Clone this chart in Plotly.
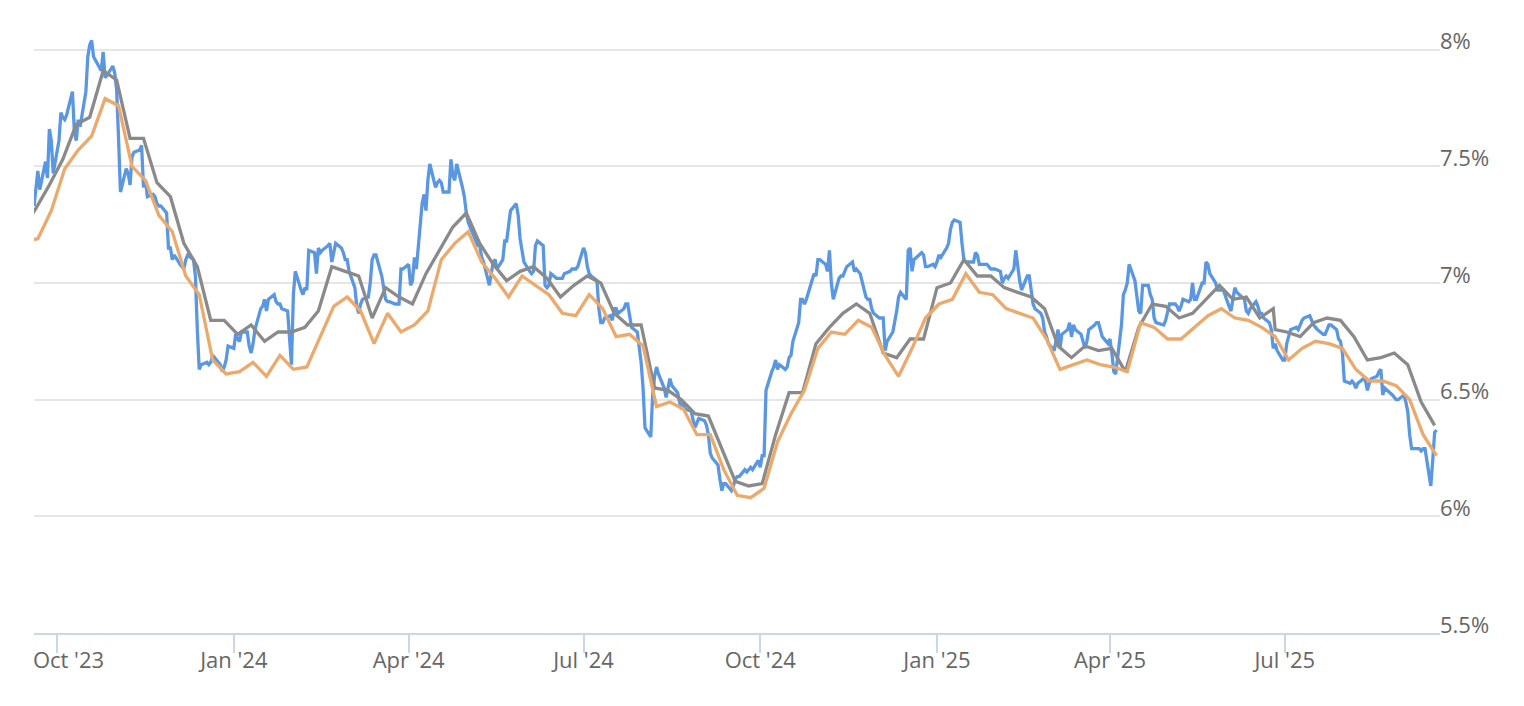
import pandas as pd
import plotly.graph_objects as go

# daily rate, business days 2023-09-19 .. 2025-09-18 (one row per week, Mon..Fri)
daily_weeks = [
    [7.33, 7.41, 7.48, 7.40],
    [7.52, 7.45, 7.66, 7.61, 7.47],
    [7.61, 7.73, 7.71, 7.70, 7.72],
    [7.82, 7.65, 7.61, 7.70, 7.67],
    [7.82, 7.97, 8.02, 8.04, 7.97],
    [7.92, 7.91, 7.99, 7.88, 7.89],
    [7.93, 7.90, 7.83, 7.62, 7.39],
    [7.49, 7.47, 7.42, 7.54, 7.56],
    [7.57, 7.59, 7.41, 7.44, 7.37],
    [7.38, 7.37, 7.34, 7.33, 7.33],
    [7.30, 7.15, 7.15, 7.10, 7.12],
    [7.08, 7.07, 7.06, 7.10, 7.12],
    [7.10, 7.03, 6.80, 6.63, 6.65],
    [6.66, 6.65, 6.66, 6.69, 6.68],
    [6.65, 6.62, 6.64, 6.67, 6.73],
    [6.72, 6.78, 6.76, 6.75, 6.79],
    [6.79, 6.73, 6.70, 6.74, 6.80],
    [6.89, 6.90, 6.93, 6.88, 6.93],
    [6.95, 6.92, 6.91, 6.91, 6.89],
    [6.88, 6.75, 6.65, 6.95, 7.05],
    [6.97, 6.95, 6.98, 6.97, 7.14],
    [7.13, 7.04, 7.15, 7.13, 7.14],
    [7.16, 7.17, 7.09, 7.14, 7.17],
    [7.15, 7.13, 7.10, 7.10, 7.05],
    [6.98, 6.90, 6.87, 6.91, 6.93],
    [6.94, 7.00, 7.10, 7.12, 7.12],
    [7.03, 6.98, 6.93, 6.92, 6.92],
    [6.91, 6.91, 6.91, 7.06, 7.06],
    [7.08, 6.99, 7.01, 7.11, 7.06],
    [7.34, 7.38, 7.31, 7.44, 7.51],
    [7.41, 7.43, 7.44, 7.43, 7.39],
    [7.39, 7.53, 7.46, 7.44, 7.51],
    [7.41, 7.37, 7.30, 7.26, 7.24],
    [7.18, 7.16, 7.16, 7.11, 7.09],
    [6.99, 7.04, 7.09, 7.10, 7.06],
    [7.10, 7.18, 7.18, 7.25, 7.31],
    [7.34, 7.29, 7.19, 7.14, 7.09],
    [7.05, 7.04, 7.05, 7.16, 7.18],
    [7.16, 6.99, 6.98, 6.99, 7.04],
    [7.02, 7.02, 7.02, 7.02, 7.04],
    [7.05, 7.06, 7.06, 7.06, 7.07],
    [7.15, 7.13, 7.07, 7.04, 7.03],
    [7.01, 6.89, 6.83, 6.83, 6.85],
    [6.86, 6.84, 6.89, 6.89, 6.87],
    [6.89, 6.91, 6.91, 6.86, 6.81],
    [6.79, 6.73, 6.66, 6.55, 6.38],
    [6.34, 6.52, 6.60, 6.64, 6.61],
    [6.55, 6.51, 6.56, 6.59, 6.56],
    [6.53, 6.49, 6.46, 6.49, 6.46],
    [6.45, 6.42, 6.38, 6.40, 6.42],
    [6.41, 6.39, 6.35, 6.27, 6.25],
    [6.22, 6.16, 6.11, 6.14, 6.14],
    [6.11, 6.13, 6.16, 6.17, 6.17],
    [6.20, 6.19, 6.20, 6.21, 6.20],
    [6.24, 6.21, 6.26, 6.26, 6.54],
    [6.62, 6.64, 6.67, 6.63, 6.65],
    [6.63, 6.64, 6.68, 6.69, 6.75],
    [6.83, 6.93, 6.93, 6.91, 6.93],
    [7.01, 7.04, 7.03, 7.10, 7.10],
    [7.08, 7.05, 7.14, 7.00, 6.93],
    [7.02, 7.03, 7.03, 7.05, 7.07],
    [7.09, 7.05, 7.06, 7.05, 7.04],
    [6.94, 6.93, 6.93, 6.89, 6.87],
    [6.85, 6.85, 6.85, 6.71, 6.75],
    [6.79, 6.83, 6.88, 6.94, 6.96],
    [6.93, 7.14, 7.15, 7.05, 7.10],
    [7.12, 7.13, 7.12, 7.07, 7.07],
    [7.08, 7.07, 7.09, 7.12, 7.11],
    [7.15, 7.17, 7.23, 7.26, 7.27],
    [7.26, 7.17, 7.10, 7.09, 7.09],
    [7.09, 7.13, 7.12, 7.08, 7.08],
    [7.08, 7.07, 7.06, 7.06, 7.06],
    [7.05, 7.00, 7.02, 7.03, 7.02],
    [7.06, 7.14, 7.06, 7.01, 6.97],
    [7.03, 7.03, 6.98, 6.91, 6.89],
    [6.87, 6.85, 6.79, 6.77, 6.74],
    [6.71, 6.75, 6.80, 6.72, 6.78],
    [6.80, 6.83, 6.77, 6.82, 6.80],
    [6.78, 6.75, 6.72, 6.75, 6.80],
    [6.82, 6.83, 6.83, 6.80, 6.77],
    [6.74, 6.76, 6.70, 6.62, 6.61],
    [6.82, 6.95, 6.97, 7.00, 7.08],
    [7.01, 6.95, 6.88, 6.87, 6.99],
    [6.99, 6.95, 6.93, 6.85, 6.83],
    [6.82, 6.82, 6.84, 6.88, 6.91],
    [6.91, 6.90, 6.88, 6.90, 6.93],
    [6.92, 6.93, 7.00, 6.93, 6.93],
    [7.00, 7.00, 7.09, 7.08, 7.04],
    [7.00, 6.97, 6.97, 6.97, 6.97],
    [6.90, 6.88, 6.93, 6.98, 6.96],
    [6.94, 6.93, 6.88, 6.87, 6.89],
    [6.92, 6.90, 6.87, 6.87, 6.85],
    [6.83, 6.80, 6.72, 6.74, 6.71],
    [6.67, 6.67, 6.74, 6.77, 6.80],
    [6.81, 6.80, 6.82, 6.84, 6.85],
    [6.86, 6.84, 6.82, 6.81, 6.80],
    [6.78, 6.78, 6.80, 6.82, 6.82],
    [6.80, 6.76, 6.75, 6.70, 6.58],
    [6.57, 6.58, 6.57, 6.55, 6.57],
    [6.59, 6.58, 6.54, 6.57, 6.59],
    [6.60, 6.62, 6.63, 6.52, 6.55],
    [6.53, 6.52, 6.51, 6.50, 6.50],
    [6.52, 6.49, 6.45, 6.35, 6.29],
    [6.29, 6.29, 6.28, 6.29, 6.29],
    [6.13, 6.24, 6.36, 6.37],
]
daily_rate = [v for week in daily_weeks for v in week]
daily_dates = pd.bdate_range("2023-09-19", "2025-09-18")

# weekly survey (Wednesdays), one extra print on 2025-06-26
survey_rate = [
    7.23, 7.32, 7.42, 7.53, 7.68, 7.71, 7.91, 7.87, 7.62, 7.62,
    7.43, 7.37, 7.17, 7.07, 6.84, 6.84, 6.78, 6.82, 6.75, 6.79,
    6.79, 6.81, 6.88, 7.07, 7.05, 7.03, 6.85, 6.98, 6.94, 6.91,
    7.04, 7.14, 7.24, 7.30, 7.17, 7.08, 7.01, 7.05, 7.07, 7.02,
    6.94, 6.99, 7.03, 7.00, 6.87, 6.82, 6.82, 6.55, 6.54, 6.50,
    6.44, 6.43, 6.29, 6.15, 6.13, 6.14, 6.35, 6.53, 6.53, 6.74,
    6.81, 6.87, 6.91, 6.87, 6.70, 6.68, 6.76, 6.76, 6.98, 7.00,
    7.10, 7.03, 7.03, 6.98, 6.96, 6.94, 6.89, 6.73, 6.68, 6.73,
    6.71, 6.72, 6.62, 6.81, 6.91, 6.90, 6.85, 6.87, 6.93, 6.99,
    6.93, 6.94, 6.85, 6.89, 6.80, 6.79, 6.77, 6.83, 6.85, 6.84,
    6.77, 6.67, 6.68, 6.70, 6.65, 6.49, 6.39,
]
survey_dates = list(pd.date_range("2023-09-13", "2025-09-17", freq="W-WED"))
survey_dates.insert(survey_dates.index(pd.Timestamp("2025-06-25")) + 1, pd.Timestamp("2025-06-26"))

# weekly average (Thursdays)
weekly_rate = [
    7.18, 7.19, 7.31, 7.49, 7.57, 7.63, 7.79, 7.76, 7.50, 7.44,
    7.29, 7.22, 7.03, 6.95, 6.67, 6.61, 6.62, 6.66, 6.60, 6.69,
    6.63, 6.64, 6.77, 6.90, 6.94, 6.88, 6.74, 6.87, 6.79, 6.82,
    6.88, 7.10, 7.17, 7.22, 7.09, 7.02, 6.94, 7.03, 6.99, 6.95,
    6.87, 6.86, 6.95, 6.89, 6.77, 6.78, 6.73, 6.47, 6.49, 6.46,
    6.35, 6.35, 6.20, 6.09, 6.08, 6.12, 6.32, 6.44, 6.54, 6.72,
    6.79, 6.78, 6.84, 6.81, 6.69, 6.60, 6.72, 6.85, 6.91, 6.93,
    7.04, 6.96, 6.95, 6.89, 6.87, 6.85, 6.76, 6.63, 6.65, 6.67,
    6.65, 6.64, 6.62, 6.83, 6.81, 6.76, 6.76, 6.81, 6.86, 6.89,
    6.85, 6.84, 6.81, 6.77, 6.67, 6.72, 6.75, 6.74, 6.72, 6.63,
    6.58, 6.58, 6.56, 6.50, 6.35, 6.26,
]
weekly_dates = pd.date_range("2023-09-14", "2025-09-18", freq="W-THU")

assert len(daily_rate) == len(daily_dates)
assert len(survey_rate) == len(survey_dates)
assert len(weekly_rate) == len(weekly_dates)

x_ticks = ["2023-10-01", "2024-01-01", "2024-04-01", "2024-07-01", "2024-10-01",
           "2025-01-01", "2025-04-01", "2025-07-01"]
x_labels = ["Oct '23", "Jan '24", "Apr '24", "Jul '24", "Oct '24",
            "Jan '25", "Apr '25", "Jul '25"]
y_ticks = [5.5, 6, 6.5, 7, 7.5, 8]
y_labels = ["5.5%", "6%", "6.5%", "7%", "7.5%", "8%"]

# first label is pushed right so it doesn't hang past the plot edge
x_text = ["\u00a0" * 4 + x_labels[0]] + x_labels[1:]

fig = go.Figure()
fig.add_trace(go.Scatter(x=daily_dates, y=daily_rate, mode="lines",
                         line=dict(color="#5a97e3", width=3.3)))
fig.add_trace(go.Scatter(x=survey_dates, y=survey_rate, mode="lines",
                         line=dict(color="#8a8a8a", width=3.3)))
fig.add_trace(go.Scatter(x=weekly_dates, y=weekly_rate, mode="lines",
                         line=dict(color="#eca96c", width=3.3)))

fig.update_layout(
    width=1524, height=706,
    margin=dict(l=34, r=84, t=3, b=73),
    paper_bgcolor="white", plot_bgcolor="white",
    showlegend=False,
    font=dict(family="Open Sans", size=22, color="#666666"),
)
fig.update_xaxes(
    type="date", range=["2023-09-19", "2025-09-19 19:00"],
    tickvals=x_ticks, ticktext=x_text,
    showgrid=False, showline=True, linecolor="#ccd6eb", linewidth=2,
    ticks="outside", ticklen=18, tickwidth=2, tickcolor="#ccd6eb",
    ticklabelstandoff=-11, automargin=False,
)
fig.update_yaxes(
    range=[5.5, 8.2], side="right",
    tickvals=y_ticks, ticktext=y_labels,
    showgrid=True, gridcolor="#e6e6e6", gridwidth=1.5,
    zeroline=False, showline=False, ticks="",
    ticklabelshift=-8, ticklabelstandoff=-1, automargin=False,
)

# page has a default 8px body margin, drop it so the figure sits at 0,0
fig.write_html("out.html", config={"displayModeBar": False},
               post_script="document.body.style.margin = '0';")
